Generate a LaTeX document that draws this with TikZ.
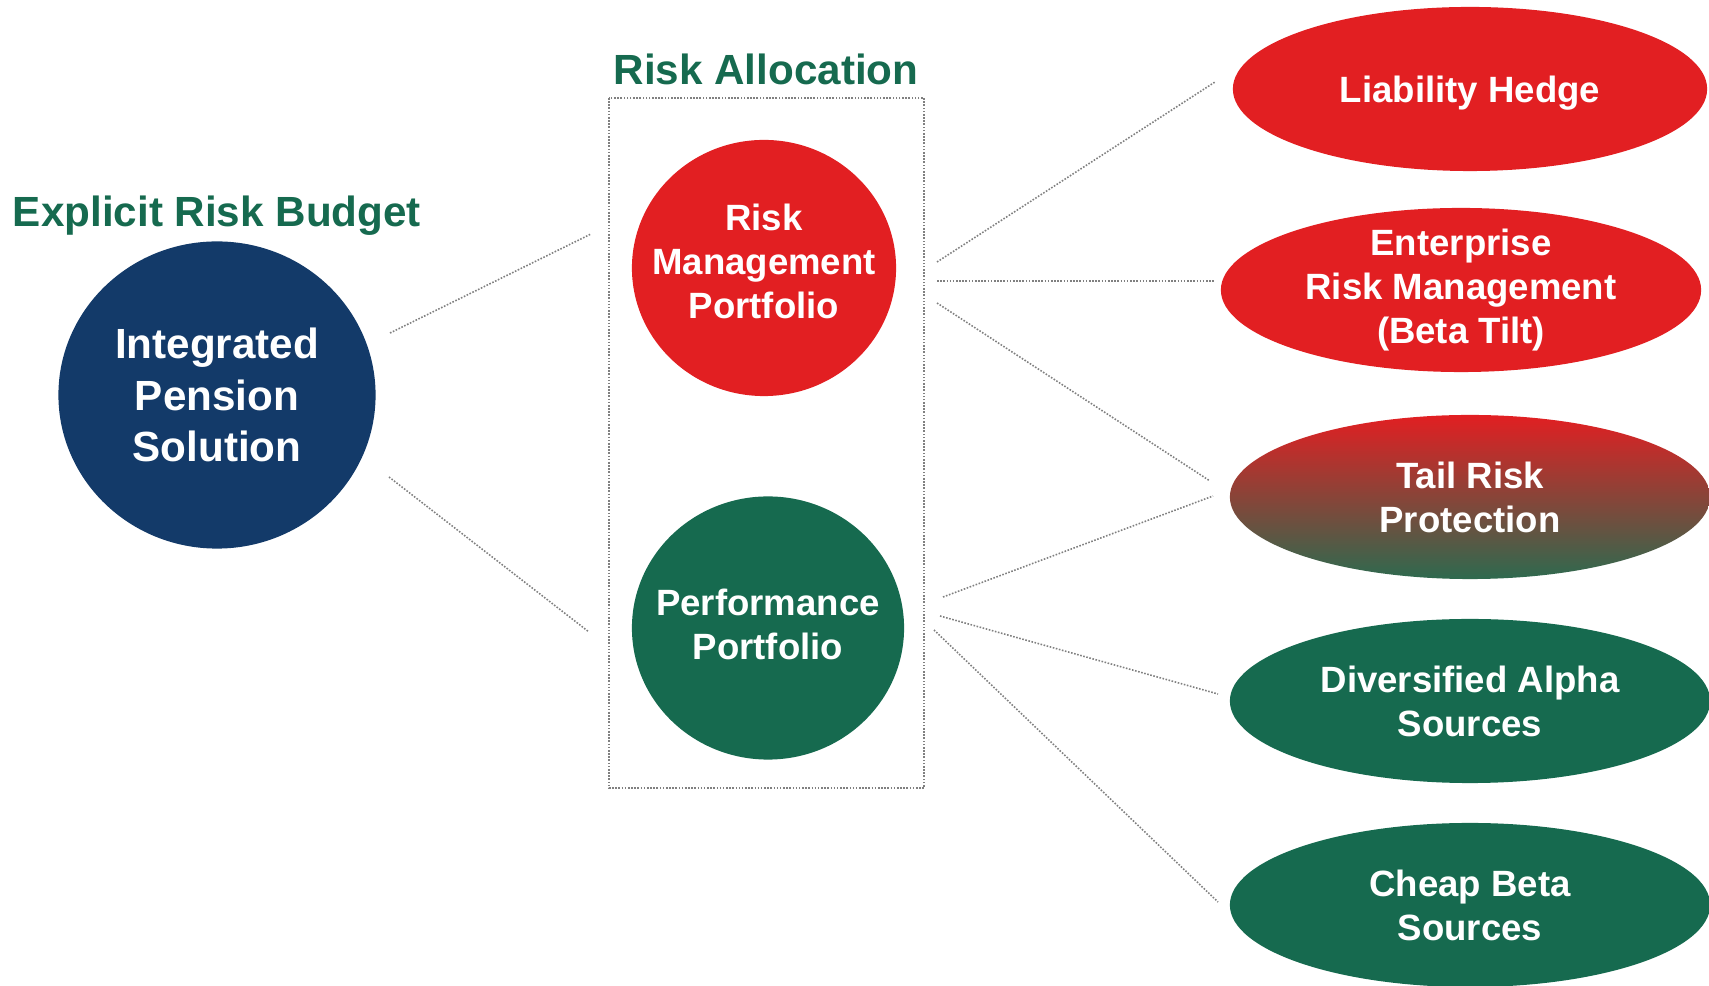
\documentclass[tikz,border=0pt]{standalone}
\usepackage{fontspec}
\setmainfont{Liberation Sans}
\usetikzlibrary{shapes.geometric}

\definecolor{pnavy}{HTML}{133A69}
\definecolor{pred}{HTML}{E21F22}
\definecolor{pgreen}{HTML}{166A4F}
\definecolor{ptail}{HTML}{2E6A4F}

\tikzset{
	blob/.style={ellipse, inner sep=-0.5cm, text=white, align=center,
		font=\bfseries\fontsize{10.4}{12.5}\selectfont},
	head/.style={text=pgreen, inner sep=0pt, anchor=base,
		font=\bfseries\fontsize{12}{14}\selectfont},
	oval/.style={blob, minimum width=4.8cm, minimum height=1.64cm},
	link/.style={draw=gray, line width=0.45pt, dash pattern=on 0.45pt off 0.45pt},
}

\begin{document}
\begin{tikzpicture}[x=0.01cm, y=-0.01cm]
		\useasboundingbox (0,0) rectangle (1709,986);
		\clip (0,0) rectangle (1709,986);
		
		% titles
		\node[head] (budget) at (217,227) {Explicit Risk Budget};
		\node[head] (alloc) at (766,85) {Risk Allocation};
		
		% frame round the two portfolios
		\draw[link] (609,98) rectangle (924,788);
		
		% circles
		\node[blob, fill=pnavy, minimum width=3.17cm, minimum height=3.07cm,
			font=\bfseries\fontsize{12}{14.7}\selectfont] (ips) at (217,395) {Integrated\\Pension\\Solution};
		\node[blob, fill=pred, minimum width=2.64cm, minimum height=2.56cm,
			text depth=0.14cm] (rmp) at (764,268) {Risk\\Management\\Portfolio};
		\node[blob, fill=pgreen, minimum width=2.72cm, minimum height=2.63cm,
			text depth=0.07cm] (perf) at (768,628) {Performance\\Portfolio};
		
		% ovals on the right
		\node[oval, fill=pred, minimum width=4.74cm, text depth=0pt] (lh) at (1470,89) {Liability Hedge};
		\node[oval, fill=pred] (erm) at (1461,290) {Enterprise\\Risk Management\\(Beta Tilt)};
		\node[oval, top color=pred, bottom color=ptail] (trp) at (1470,497) {Tail Risk\\Protection};
		\node[oval, fill=pgreen] (das) at (1470,701) {Diversified Alpha\\Sources};
		\node[oval, fill=pgreen] (cbs) at (1470,905) {Cheap Beta\\Sources};
		
		% line ends (kept clear of the shapes)
		\coordinate (ips-a) at (390,333);  \coordinate (box-a) at (591,234);
		\coordinate (ips-b) at (389,477);  \coordinate (box-b) at (589,632);
		\coordinate (rmp-a) at (937,262);  \coordinate (lh-in) at (1215,82);
		\coordinate (rmp-b) at (937,281);  \coordinate (erm-in) at (1215,281);
		\coordinate (rmp-c) at (937,303);  \coordinate (trp-a) at (1210,481);
		\coordinate (perf-a) at (943,597); \coordinate (trp-b) at (1213,496);
		\coordinate (perf-b) at (940,616); \coordinate (das-in) at (1218,694);
		\coordinate (perf-c) at (934,630); \coordinate (cbs-in) at (1218,902);
		
		\draw[link] (ips-a) -- (box-a);
		\draw[link] (ips-b) -- (box-b);
		\draw[link] (rmp-a) -- (lh-in);
		\draw[link] (rmp-b) -- (erm-in);
		\draw[link] (rmp-c) -- (trp-a);
		\draw[link] (perf-a) -- (trp-b);
		\draw[link] (perf-b) -- (das-in);
		\draw[link] (perf-c) -- (cbs-in);
\end{tikzpicture}
\end{document}
